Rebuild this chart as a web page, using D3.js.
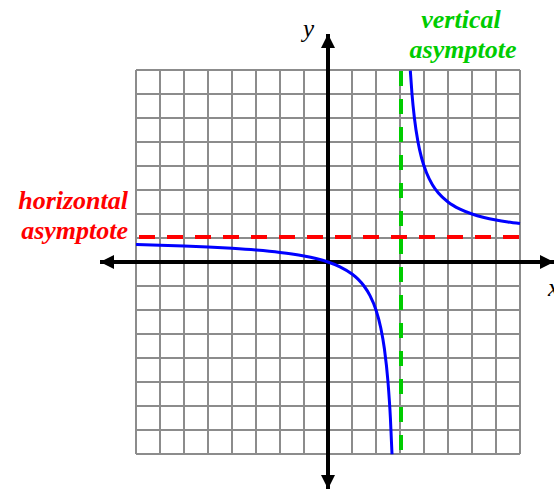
<!DOCTYPE html>
<html>
<head>
<meta charset="utf-8">
<script src="https://cdn.jsdelivr.net/npm/d3@7"></script>
<style>
  body { margin: 0; background: #fff; }
  svg { display: block; }
</style>
</head>
<body>
<div id="chart"></div>
<script>
// grid extent (units) and asymptotes of y = x / (x - 3)
var xTicks = d3.range(-8, 9);
var yTicks = d3.range(-8, 9);
var vAsym = 3;
var hAsym = 1;
// sample x values for the two branches
var leftXs = [-8, -7, -6, -5, -4, -3, -2, -1.5, -1, -0.5, 0, 0.5, 1, 1.25, 1.5, 1.75, 2, 2.2, 2.35, 2.5, 2.6, 2.667];
var rightXs = [3.43, 3.5, 3.6, 3.75, 3.9, 4.1, 4.35, 4.6, 5, 5.5, 6, 6.5, 7, 7.5, 8];
var f = function(x) { return x / (x - 3); };

var width = 554, height = 489;
var svg = d3.select('#chart').append('svg')
	.attr('width', width)
	.attr('height', height);

var x = d3.scaleLinear().domain([-8, 8]).range([136, 520]);
var y = d3.scaleLinear().domain([-8, 8]).range([454, 70]);

var defs = svg.append('defs');
defs.append('marker')
	.attr('id', 'arrow')
	.attr('viewBox', '0 0 10 10')
	.attr('refX', 10).attr('refY', 5)
	.attr('markerUnits', 'userSpaceOnUse')
	.attr('markerWidth', 14).attr('markerHeight', 18)
	.attr('orient', 'auto-start-reverse')
	.append('path')
	.attr('d', 'M0,0 L10,5 L0,10 Z')
	.attr('fill', '#000');

// grid
var grid = svg.append('g').attr('stroke', '#8c8c8c').attr('stroke-width', 2);
grid.selectAll('line.v').data(xTicks).enter().append('line')
	.attr('class', 'v')
	.attr('x1', function(d) { return x(d); }).attr('x2', function(d) { return x(d); })
	.attr('y1', y(8)).attr('y2', y(-8));
grid.selectAll('line.h').data(yTicks).enter().append('line')
	.attr('class', 'h')
	.attr('y1', function(d) { return y(d); }).attr('y2', function(d) { return y(d); })
	.attr('x1', x(-8)).attr('x2', x(8));

// axes
svg.append('line')
	.attr('x1', 100).attr('x2', 554)
	.attr('y1', y(0)).attr('y2', y(0))
	.attr('stroke', '#000').attr('stroke-width', 4)
	.attr('marker-start', 'url(#arrow)')
	.attr('marker-end', 'url(#arrow)');
svg.append('line')
	.attr('x1', x(0)).attr('x2', x(0))
	.attr('y1', 489).attr('y2', 34)
	.attr('stroke', '#000').attr('stroke-width', 4)
	.attr('marker-start', 'url(#arrow)')
	.attr('marker-end', 'url(#arrow)');

svg.append('text')
	.attr('x', 303).attr('y', 37)
	.attr('font-family', 'Liberation Serif').attr('font-style', 'italic')
	.attr('font-size', 25).attr('fill', '#000')
	.text('y');
svg.append('text')
	.attr('x', 548).attr('y', 296)
	.attr('font-family', 'Liberation Serif').attr('font-style', 'italic')
	.attr('font-size', 25).attr('fill', '#000')
	.text('x');

// asymptotes
svg.append('line')
	.attr('x1', x(-8) + 3).attr('x2', x(8))
	.attr('y1', y(hAsym) - 1).attr('y2', y(hAsym) - 1)
	.attr('stroke', '#ff0000').attr('stroke-width', 4)
	.attr('stroke-dasharray', '16,12');
svg.append('line')
	.attr('x1', x(vAsym) + 1).attr('x2', x(vAsym) + 1)
	.attr('y1', y(8) + 1).attr('y2', y(-8))
	.attr('stroke', '#00cc00').attr('stroke-width', 4)
	.attr('stroke-dasharray', '15,13');

// curve
var line = d3.line()
	.x(function(d) { return x(d); })
	.y(function(d) { return y(f(d)); })
	.curve(d3.curveMonotoneX);
[leftXs, rightXs].forEach(function(xs) {
	svg.append('path')
		.datum(xs)
		.attr('d', line)
		.attr('fill', 'none')
		.attr('stroke', '#0000ff')
		.attr('stroke-width', 3);
});

// labels
var labelFont = function(t) {
	t.attr('font-family', 'Liberation Serif')
		.attr('font-style', 'italic')
		.attr('font-weight', 'bold')
		.attr('font-size', 26);
};
svg.append('text').call(labelFont)
	.attr('x', 461).attr('y', 28).attr('text-anchor', 'middle')
	.attr('fill', '#00cc00').text('vertical');
svg.append('text').call(labelFont)
	.attr('x', 463).attr('y', 58).attr('text-anchor', 'middle')
	.attr('fill', '#00cc00').text('asymptote');
svg.append('text').call(labelFont)
	.attr('x', 128).attr('y', 209).attr('text-anchor', 'end')
	.attr('fill', '#ff0000').text('horizontal');
svg.append('text').call(labelFont)
	.attr('x', 128).attr('y', 239).attr('text-anchor', 'end')
	.attr('fill', '#ff0000').text('asymptote');
</script>
</body>
</html>
